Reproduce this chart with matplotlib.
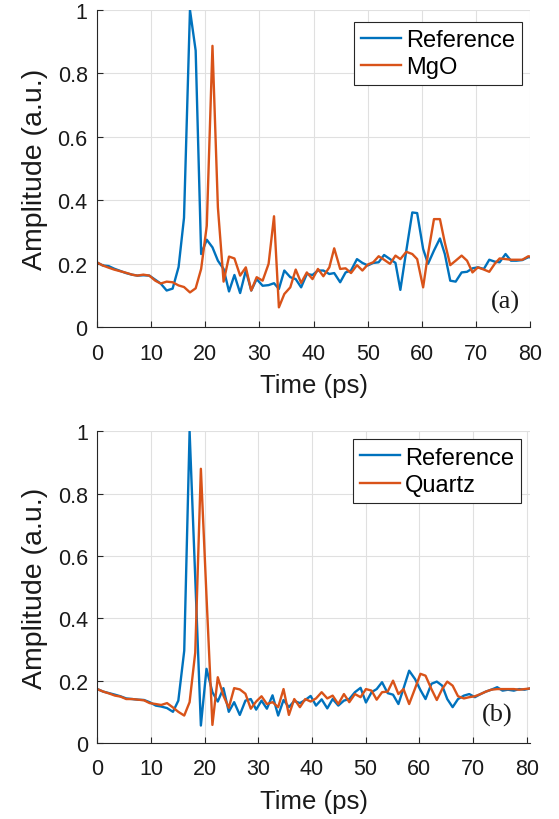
# import modules
import matplotlib
matplotlib.use('Agg')
import matplotlib.pyplot as plt

plt.rcParams['font.family'] = ['Liberation Sans', 'DejaVu Sans']

# panel (a) data
time_a = [0, 1.1, 2.2, 3.2, 4.3, 5.4, 6.5, 7.5, 8.6, 9.7, 10.8, 11.8, 12.9, 14.0, 15.1, 16.1,
          17.2, 18.25, 19.26, 20.3, 21.35, 22.35, 23.4, 24.4, 25.4, 26.45, 27.5, 28.5, 29.5,
          30.6, 31.7, 32.7, 33.6, 34.6, 35.7, 36.7, 37.7, 38.75, 39.8, 40.8, 41.8, 42.9, 43.8,
          44.9, 45.9, 46.9, 48.0, 49.0, 50.0, 51.0, 52.0, 53.0, 54.1, 55.1, 56.0, 57.1, 58.2,
          59.1, 60.2, 61.1, 62.2, 63.3, 64.2, 65.2, 66.2, 67.3, 68.3, 69.3, 70.3, 71.4, 72.4,
          73.4, 74.3, 75.4, 76.4, 77.4, 78.5, 79.6, 80.6]
ref_a = [0.205, 0.195, 0.193, 0.185, 0.178, 0.171, 0.166, 0.163, 0.164, 0.163, 0.150, 0.138,
         0.116, 0.122, 0.190, 0.345, 1.000, 0.872, 0.231, 0.276, 0.252, 0.210, 0.184, 0.113,
         0.165, 0.108, 0.179, 0.116, 0.152, 0.131, 0.133, 0.139, 0.121, 0.179, 0.158, 0.152,
         0.126, 0.168, 0.165, 0.179, 0.179, 0.168, 0.171, 0.142, 0.173, 0.179, 0.215, 0.203,
         0.195, 0.203, 0.205, 0.228, 0.215, 0.203, 0.118, 0.242, 0.362, 0.360, 0.247, 0.200,
         0.242, 0.280, 0.231, 0.147, 0.144, 0.173, 0.175, 0.186, 0.189, 0.184, 0.213, 0.207,
         0.205, 0.231, 0.210, 0.210, 0.212, 0.221, 0.220]
mgo_a = [0.205, 0.195, 0.188, 0.182, 0.177, 0.172, 0.166, 0.163, 0.166, 0.163, 0.147, 0.138,
         0.144, 0.142, 0.132, 0.127, 0.110, 0.123, 0.184, 0.320, 0.887, 0.378, 0.144, 0.223,
         0.217, 0.163, 0.189, 0.116, 0.158, 0.147, 0.200, 0.350, 0.063, 0.105, 0.126, 0.182,
         0.140, 0.173, 0.152, 0.184, 0.161, 0.189, 0.249, 0.184, 0.186, 0.171, 0.196, 0.179,
         0.198, 0.205, 0.224, 0.213, 0.200, 0.226, 0.215, 0.238, 0.231, 0.215, 0.126, 0.231,
         0.341, 0.341, 0.267, 0.196, 0.210, 0.226, 0.210, 0.173, 0.189, 0.182, 0.175, 0.200,
         0.217, 0.215, 0.213, 0.213, 0.213, 0.224, 0.221]

# panel (b) data
time_b = [0, 1.1, 2.2, 3.3, 4.3, 5.4, 6.5, 7.6, 8.7, 9.75, 10.9, 11.9, 13.0, 14.1, 15.1, 16.2,
          17.2, 18.25, 19.3, 20.35, 21.45, 22.45, 23.5, 24.5, 25.5, 26.55, 27.6, 28.6, 29.6,
          30.6, 31.6, 32.65, 33.7, 34.7, 35.7, 36.7, 37.75, 38.75, 39.75, 40.75, 41.8, 42.85,
          43.85, 44.9, 45.95, 46.95, 48.0, 49.05, 50.05, 51.1, 52.05, 53.05, 54.1, 55.1, 56.1,
          57.05, 58.1, 59.2, 60.2, 61.15, 62.25, 63.25, 64.25, 65.2, 66.2, 67.2, 68.3, 69.3,
          70.35, 71.4, 72.4, 73.4, 74.5, 75.5, 76.5, 77.6, 78.6, 79.6, 80.6]
ref_b = [0.173, 0.165, 0.160, 0.155, 0.150, 0.143, 0.141, 0.139, 0.138, 0.131, 0.120, 0.117,
         0.112, 0.100, 0.136, 0.296, 1.000, 0.530, 0.056, 0.238, 0.163, 0.133, 0.176, 0.100,
         0.131, 0.090, 0.136, 0.141, 0.107, 0.136, 0.110, 0.153, 0.088, 0.138, 0.115, 0.135,
         0.128, 0.138, 0.151, 0.120, 0.140, 0.111, 0.141, 0.120, 0.136, 0.141, 0.163, 0.177,
         0.130, 0.163, 0.173, 0.195, 0.160, 0.155, 0.125, 0.175, 0.232, 0.205, 0.170, 0.141,
         0.190, 0.197, 0.184, 0.141, 0.115, 0.141, 0.152, 0.157, 0.147, 0.157, 0.165, 0.171,
         0.179, 0.168, 0.171, 0.168, 0.173, 0.171, 0.175]
quartz_b = [0.173, 0.165, 0.159, 0.152, 0.149, 0.141, 0.141, 0.139, 0.137, 0.128, 0.125, 0.122,
            0.128, 0.114, 0.100, 0.088, 0.131, 0.290, 0.880, 0.470, 0.058, 0.211, 0.152, 0.113,
            0.176, 0.172, 0.158, 0.110, 0.133, 0.150, 0.125, 0.131, 0.115, 0.173, 0.090, 0.141,
            0.115, 0.141, 0.133, 0.143, 0.163, 0.143, 0.152, 0.125, 0.157, 0.131, 0.157, 0.147,
            0.173, 0.168, 0.139, 0.163, 0.165, 0.200, 0.157, 0.173, 0.125, 0.175, 0.222, 0.216,
            0.173, 0.138, 0.173, 0.197, 0.184, 0.150, 0.143, 0.147, 0.150, 0.157, 0.165, 0.171,
            0.173, 0.173, 0.173, 0.173, 0.171, 0.173, 0.175]

x_ticks = [0, 10, 20, 30, 40, 50, 60, 70, 80]
y_ticks = [0, 0.2, 0.4, 0.6, 0.8, 1]
y_tick_labels = ['0', '0.2', '0.4', '0.6', '0.8', '1']

blue = '#0072BD'
orange = '#D95319'
axis_col = '#262626'

fig = plt.figure(figsize=(5.59, 8.2), dpi=100)
ax_a = fig.add_axes([0.173, 0.5996, 0.776, 0.387])
ax_b = fig.add_axes([0.174, 0.0927, 0.774, 0.380])


def style_axes(axe, xmax, tag, tag_x, tag_y, anchor):
    axe.set_xlim(0, xmax)
    axe.set_ylim(0, 1)
    axe.set_xticks(x_ticks)
    axe.set_yticks(y_ticks)
    axe.set_yticklabels(y_tick_labels)
    axe.grid(True, color='#e0e0e0', linewidth=0.8)
    axe.set_axisbelow(True)
    for side in ['top', 'right']:
        axe.spines[side].set_visible(False)
    for side in ['left', 'bottom']:
        axe.spines[side].set_color(axis_col)
        axe.spines[side].set_linewidth(0.8)
    axe.tick_params(axis='both', direction='in', length=4, width=0.8,
                    colors=axis_col, labelcolor='#1a1a1a', labelsize=15.5)
    axe.tick_params(axis='x', pad=11)
    axe.tick_params(axis='y', pad=6.5)
    axe.set_xlabel('Time (ps)', fontsize=18.5, color='#1a1a1a', labelpad=7)
    axe.set_ylabel('Amplitude (a.u.)', fontsize=20.5, color='#1a1a1a', labelpad=7)
    leg = axe.legend(loc='upper right', bbox_to_anchor=anchor, fontsize=17,
                     handlelength=1.7, handletextpad=0.2, borderpad=0.3,
                     labelspacing=0.22, borderaxespad=0, fancybox=False,
                     framealpha=1, edgecolor='#262626')
    leg.get_frame().set_linewidth(0.8)
    axe.text(tag_x, tag_y, tag, family=['Liberation Serif', 'DejaVu Serif'],
             fontsize=19, ha='center', va='center', color='#1a1a1a')


ax_a.plot(time_a, ref_a, color=blue, linewidth=1.7, label='Reference')
ax_a.plot(time_a, mgo_a, color=orange, linewidth=1.7, label='MgO')
style_axes(ax_a, 80, '(a)', 75.3, 0.083, (0.980, 0.963))

ax_b.plot(time_b, ref_b, color=blue, linewidth=1.7, label='Reference')
ax_b.plot(time_b, quartz_b, color=orange, linewidth=1.7, label='Quartz')
style_axes(ax_b, 80.6, '(b)', 74.6, 0.093, (0.980, 0.974))

fig.savefig('out.png', dpi=100)
